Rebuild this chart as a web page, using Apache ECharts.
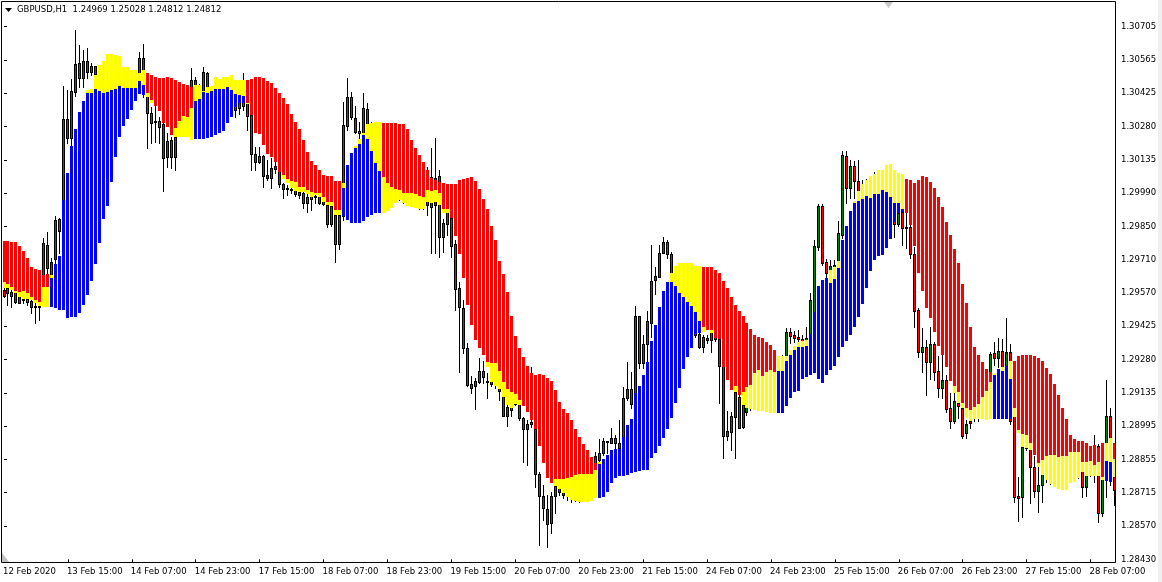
<!DOCTYPE html>
<html><head><meta charset="utf-8">
<script src="https://cdn.jsdelivr.net/npm/echarts@6/dist/echarts.min.js"></script>
<style>html,body{margin:0;padding:0;background:#fff}#c{width:1162px;height:582px}</style>
</head><body><div id="c"></div>
<script>
const _ = null;
const chartTitle = 'GBPUSD,H1  1.24969 1.25028 1.24812 1.24812';
const xTickLabels = ['12 Feb 2020','13 Feb 15:00','14 Feb 07:00','14 Feb 23:00','17 Feb 15:00','18 Feb 07:00','18 Feb 23:00','19 Feb 15:00','20 Feb 07:00','20 Feb 23:00','21 Feb 15:00','24 Feb 07:00','24 Feb 23:00','25 Feb 15:00','26 Feb 07:00','26 Feb 23:00','27 Feb 15:00','28 Feb 07:00'];
const yTickLabels = ['1.28430','1.28570','1.28715','1.28855','1.28995','1.29135','1.29280','1.29425','1.29570','1.29710','1.29850','1.29990','1.30135','1.30280','1.30425','1.30565','1.30705'];

const open = [
1.29580,1.29589,1.29554,1.29571,1.29524,1.29537,1.29541,1.29533,1.29512,1.29507,
1.29546,1.29772,1.29601,1.29713,1.29883,1.29875,1.30311,1.30230,1.30426,1.30550,
1.30486,1.30559,1.30512,1.30537,1.30486,1.30520,1.30477,1.30546,1.30503,1.30537,
1.30494,1.30452,1.30494,1.30469,1.30486,1.30571,1.30426,1.30336,1.30302,1.30302,
1.30289,1.30148,1.30221,1.30148,1.30281,1.30264,1.30306,1.30392,1.30477,1.30417,
1.30413,1.30507,1.30426,1.30392,1.30435,1.30392,1.30409,1.30435,1.30349,1.30358,
1.30400,1.30392,1.30328,1.30161,1.30127,1.30153,1.30071,1.30059,1.30097,1.30110,
1.30033,1.30012,1.30012,1.29990,1.29999,1.29995,1.29952,1.29969,1.29982,1.29982,
1.29965,1.29944,1.29862,1.29901,1.29777,1.29896,1.30281,1.30405,1.30315,1.30259,
1.30247,1.30353,1.30272,1.30178,1.30221,1.30136,1.30007,1.30050,1.29973,1.30007,
1.29965,1.29999,1.29948,1.29982,1.29939,1.29973,1.30029,1.29935,1.29944,1.30067,
1.29807,1.29862,1.29888,1.29777,1.29589,1.29503,1.29332,1.29179,1.29170,1.29187,
1.29234,1.29191,1.29179,1.29196,1.29170,1.29132,1.29042,1.29068,1.29110,1.29093,
1.29033,1.28986,1.29008,1.28986,1.28794,1.28700,1.28645,1.28585,1.28700,1.28743,
1.28704,1.28734,1.28692,1.28726,1.28692,1.28726,1.28768,1.28743,1.28811,1.28854,
1.28884,1.28931,1.28926,1.28948,1.28926,1.28952,1.29119,1.29157,1.29140,1.29469,
1.29268,1.29349,1.29439,1.29623,1.29636,1.29738,1.29785,1.29734,1.29657,1.29606,
1.29640,1.29580,1.29537,1.29452,1.29392,1.29337,1.29367,1.29367,1.29392,1.29371,
1.29255,1.28956,1.28973,1.29038,1.29123,1.28995,1.29059,1.29110,1.29089,1.29153,
1.29110,1.29187,1.29238,1.29213,1.29230,1.29260,1.29290,1.29401,1.29388,1.29379,
1.29371,1.29367,1.29375,1.29478,1.29764,1.29939,1.29700,1.29645,1.29678,1.29700,
1.29815,1.30153,1.30016,1.30110,1.30046,1.29986,1.30024,1.29999,1.30024,1.30059,
1.30033,1.30067,1.30033,1.29944,1.29862,1.29913,1.29849,1.29849,1.29734,1.29495,
1.29315,1.29337,1.29273,1.29349,1.29234,1.29162,1.29196,1.29076,1.29021,1.29097,
1.29076,1.28969,1.29021,1.29059,1.29033,1.29068,1.29127,1.29217,1.29311,1.29290,
1.29320,1.29255,1.29315,1.29046,1.28700,1.28696,1.28918,1.28905,1.28824,1.28721,
1.28747,1.28777,1.28811,1.28768,1.28828,1.28785,1.28820,1.28785,1.28828,1.28811,
1.28820,1.28738,1.28794,1.28828,1.28914,1.28627,1.28811,1.29042,1.28803];

const high = [
1.29589,1.29593,1.29580,1.29571,1.29567,1.29550,1.29567,1.29541,1.29524,1.29524,
1.29802,1.29828,1.29717,1.29896,1.29887,1.30452,1.30435,1.30482,1.30691,1.30627,
1.30605,1.30614,1.30550,1.30537,1.30529,1.30546,1.30563,1.30571,1.30563,1.30554,
1.30520,1.30512,1.30512,1.30520,1.30597,1.30631,1.30443,1.30362,1.30366,1.30319,
1.30315,1.30251,1.30234,1.30255,1.30298,1.30319,1.30375,1.30529,1.30490,1.30460,
1.30533,1.30512,1.30452,1.30477,1.30460,1.30452,1.30469,1.30456,1.30405,1.30409,
1.30507,1.30409,1.30341,1.30191,1.30191,1.30157,1.30136,1.30144,1.30136,1.30110,
1.30037,1.30029,1.30029,1.30020,1.30007,1.30007,1.29995,1.29999,1.30007,1.29986,
1.29973,1.29952,1.29952,1.29909,1.29935,1.30383,1.30486,1.30426,1.30366,1.30298,
1.30422,1.30379,1.30298,1.30264,1.30242,1.30178,1.30093,1.30067,1.30029,1.30029,
1.30016,1.30016,1.30007,1.30007,1.29999,1.29990,1.30106,1.30187,1.30230,1.30093,
1.29883,1.29931,1.29909,1.29794,1.29614,1.29537,1.29354,1.29213,1.29204,1.29290,
1.29277,1.29226,1.29217,1.29213,1.29183,1.29153,1.29093,1.29093,1.29119,1.29102,
1.29038,1.29025,1.29251,1.28991,1.28802,1.28747,1.28704,1.28717,1.28760,1.28760,
1.28751,1.28751,1.28743,1.28743,1.28751,1.28781,1.28785,1.28819,1.28888,1.28943,
1.28948,1.28935,1.28991,1.28960,1.29025,1.29166,1.29273,1.29230,1.29512,1.29469,
1.29388,1.29490,1.29772,1.29678,1.29772,1.29807,1.29794,1.29743,1.29674,1.29666,
1.29657,1.29601,1.29554,1.29478,1.29409,1.29388,1.29388,1.29409,1.29409,1.29375,
1.29255,1.29063,1.29059,1.29144,1.29153,1.29110,1.29127,1.29132,1.29174,1.29170,
1.29213,1.29260,1.29255,1.29273,1.29290,1.29302,1.29418,1.29418,1.29405,1.29409,
1.29388,1.29422,1.29567,1.29794,1.29948,1.29948,1.29713,1.29708,1.29708,1.29875,
1.30174,1.30174,1.30136,1.30131,1.30136,1.30050,1.30054,1.30059,1.30084,1.30084,
1.30084,1.30093,1.30050,1.29965,1.29922,1.29922,1.29909,1.29858,1.29764,1.29503,
1.29418,1.29367,1.29422,1.29358,1.29298,1.29302,1.29217,1.29140,1.29140,1.29119,
1.29076,1.29025,1.29038,1.29076,1.29110,1.29273,1.29217,1.29315,1.29358,1.29375,
1.29371,1.29460,1.29349,1.29068,1.28781,1.28918,1.28939,1.28918,1.28871,1.28824,
1.28824,1.28828,1.28828,1.28845,1.28854,1.28837,1.28837,1.28952,1.28854,1.28828,
1.28837,1.28811,1.28845,1.28961,1.28922,1.28785,1.29196,1.29076,1.28811];

const low = [
1.29550,1.29516,1.29507,1.29524,1.29524,1.29524,1.29516,1.29482,1.29439,1.29452,
1.29524,1.29623,1.29580,1.29696,1.29738,1.29862,1.30208,1.30127,1.30409,1.30447,
1.30447,1.30486,1.30499,1.30490,1.30460,1.30452,1.30460,1.30477,1.30469,1.30460,
1.30426,1.30435,1.30435,1.30452,1.30469,1.30405,1.30187,1.30208,1.30212,1.30208,
1.30003,1.30106,1.30101,1.30093,1.30238,1.30247,1.30289,1.30375,1.30413,1.30405,
1.30392,1.30400,1.30375,1.30375,1.30383,1.30375,1.30392,1.30375,1.30319,1.30332,
1.30349,1.30264,1.30093,1.30093,1.30123,1.30020,1.30050,1.30016,1.30080,1.30020,
1.29973,1.29986,1.29995,1.29982,1.29973,1.29931,1.29914,1.29922,1.29952,1.29948,
1.29944,1.29849,1.29853,1.29700,1.29755,1.29879,1.30264,1.30311,1.30251,1.30200,
1.30238,1.30221,1.30200,1.30136,1.30093,1.30007,1.29973,1.29965,1.29956,1.29965,
1.29952,1.29948,1.29939,1.29935,1.29926,1.29926,1.29901,1.29738,1.29738,1.29721,
1.29743,1.29815,1.29721,1.29495,1.29230,1.29311,1.29170,1.29140,1.29072,1.29183,
1.29183,1.29119,1.29170,1.29162,1.29110,1.29042,1.28999,1.29042,1.29089,1.29025,
1.28845,1.28832,1.28995,1.28738,1.28491,1.28598,1.28482,1.28542,1.28627,1.28704,
1.28692,1.28683,1.28675,1.28679,1.28675,1.28709,1.28726,1.28726,1.28794,1.28845,
1.28875,1.28884,1.28926,1.28897,1.28901,1.28948,1.29110,1.29076,1.29132,1.29247,
1.29247,1.29273,1.29379,1.29563,1.29636,1.29738,1.29717,1.29645,1.29606,1.29589,
1.29554,1.29516,1.29452,1.29379,1.29332,1.29315,1.29354,1.29315,1.29362,1.29097,
1.28862,1.28939,1.28897,1.28862,1.28991,1.28991,1.29046,1.29068,1.29076,1.29089,
1.29097,1.29174,1.29196,1.29196,1.29217,1.29238,1.29281,1.29354,1.29358,1.29354,
1.29358,1.29362,1.29367,1.29469,1.29751,1.29687,1.29636,1.29632,1.29666,1.29687,
1.29802,1.29952,1.29973,1.29973,1.29973,1.29973,1.29986,1.29982,1.30007,1.30007,
1.30016,1.30007,1.29944,1.29807,1.29853,1.29772,1.29760,1.29717,1.29422,1.29294,
1.29230,1.29132,1.29200,1.29196,1.29123,1.29119,1.29059,1.28991,1.29012,1.29033,
1.28948,1.28948,1.28991,1.29021,1.29021,1.29046,1.29110,1.29196,1.29260,1.29251,
1.29243,1.29247,1.29008,1.28675,1.28593,1.28610,1.28897,1.28670,1.28696,1.28632,
1.28675,1.28760,1.28751,1.28743,1.28768,1.28768,1.28768,1.28777,1.28785,1.28777,
1.28696,1.28700,1.28785,1.28760,1.28589,1.28615,1.28696,1.28747,1.28662];

const close = [
1.29554,1.29567,1.29571,1.29529,1.29554,1.29541,1.29529,1.29507,1.29507,1.29512,
1.29781,1.29674,1.29700,1.29879,1.29832,1.30311,1.30230,1.30430,1.30546,1.30486,
1.30559,1.30512,1.30537,1.30503,1.30512,1.30477,1.30537,1.30503,1.30537,1.30486,
1.30452,1.30486,1.30460,1.30503,1.30571,1.30443,1.30336,1.30294,1.30298,1.30277,
1.30144,1.30217,1.30148,1.30234,1.30255,1.30306,1.30349,1.30477,1.30426,1.30452,
1.30512,1.30413,1.30392,1.30443,1.30400,1.30426,1.30443,1.30400,1.30392,1.30392,
1.30366,1.30324,1.30161,1.30127,1.30153,1.30067,1.30059,1.30101,1.30110,1.30033,
1.30012,1.30016,1.30007,1.30007,1.29986,1.29952,1.29978,1.29986,1.29978,1.29952,
1.29948,1.29862,1.29939,1.29777,1.29901,1.30285,1.30405,1.30319,1.30255,1.30251,
1.30358,1.30264,1.30221,1.30242,1.30136,1.30050,1.30071,1.29986,1.30016,1.29982,
1.29999,1.29965,1.29982,1.29948,1.29973,1.29948,1.29944,1.30063,1.30059,1.29807,
1.29866,1.29913,1.29768,1.29584,1.29507,1.29332,1.29174,1.29162,1.29191,1.29234,
1.29209,1.29187,1.29204,1.29174,1.29149,1.29042,1.29080,1.29080,1.29093,1.29033,
1.28986,1.29008,1.29016,1.28794,1.28700,1.28649,1.28581,1.28700,1.28743,1.28717,
1.28734,1.28704,1.28726,1.28700,1.28734,1.28768,1.28743,1.28802,1.28871,1.28884,
1.28935,1.28935,1.28948,1.28926,1.28905,1.29119,1.29157,1.29093,1.29469,1.29268,
1.29349,1.29448,1.29619,1.29640,1.29738,1.29785,1.29734,1.29653,1.29623,1.29640,
1.29580,1.29537,1.29473,1.29388,1.29337,1.29379,1.29375,1.29401,1.29371,1.29255,
1.28956,1.28978,1.29042,1.29144,1.28991,1.29089,1.29110,1.29089,1.29153,1.29110,
1.29196,1.29238,1.29213,1.29247,1.29273,1.29290,1.29401,1.29384,1.29375,1.29371,
1.29362,1.29375,1.29537,1.29768,1.29939,1.29696,1.29653,1.29683,1.29687,1.29824,
1.30157,1.30016,1.30110,1.30046,1.30003,1.30016,1.29999,1.30033,1.30059,1.30024,
1.30067,1.30033,1.29965,1.29862,1.29909,1.29845,1.29845,1.29734,1.29490,1.29315,
1.29337,1.29273,1.29349,1.29230,1.29162,1.29196,1.29072,1.29021,1.29106,1.29085,
1.28956,1.29008,1.29012,1.29033,1.29068,1.29132,1.29196,1.29307,1.29290,1.29320,
1.29251,1.29315,1.29021,1.28696,1.28692,1.28909,1.28905,1.28824,1.28721,1.28747,
1.28803,1.28811,1.28777,1.28828,1.28794,1.28820,1.28794,1.28828,1.28803,1.28785,
1.28738,1.28794,1.28828,1.28794,1.28627,1.28785,1.29042,1.28811,1.28726];

// indicator columns: red from redTop down to yellowTop, yellow from yellowTop to yellowBottom,
// blue from yellowBottom (or yellowTop) down to blueBottom
const redTop = [
1.29790,1.29790,1.29785,1.29785,1.29768,1.29747,1.29717,1.29678,1.29670,1.29666,
1.29645,1.29649,_,_,_,_,_,_,_,_,
_,_,_,_,_,_,_,_,_,_,
_,_,_,_,_,_,1.30507,1.30499,1.30490,1.30486,
1.30486,1.30490,1.30486,1.30477,1.30469,1.30460,1.30456,1.30447,_,_,
_,_,_,_,_,_,_,_,_,_,
_,1.30477,1.30482,1.30490,1.30490,1.30486,1.30473,1.30464,1.30443,1.30422,
1.30400,1.30375,1.30332,1.30298,1.30268,1.30221,1.30170,1.30131,1.30114,1.30093,
1.30071,1.30067,1.30067,1.30046,1.30046,_,_,_,_,_,
_,_,_,_,_,1.30294,1.30294,1.30294,1.30294,1.30289,
1.30289,1.30268,1.30221,1.30187,1.30157,1.30127,1.30093,1.30059,1.30050,1.30042,
1.30037,1.30033,1.30033,1.30033,1.30050,1.30054,1.30059,1.30063,1.30046,1.30012,
1.29969,1.29926,1.29853,1.29794,1.29704,1.29649,1.29572,1.29469,1.29384,1.29332,
1.29294,1.29255,1.29226,1.29217,1.29221,1.29217,1.29204,1.29191,1.29153,1.29102,
1.29072,1.29055,1.29025,1.28986,1.28952,1.28922,1.28897,1.28867,1.28841,_,
_,_,_,_,_,_,_,_,_,_,
_,_,_,_,_,_,_,_,_,_,
_,_,_,_,_,1.29678,1.29678,1.29678,1.29666,1.29653,
1.29619,1.29589,1.29550,1.29516,1.29490,1.29469,1.29439,1.29414,1.29388,1.29379,
1.29375,1.29358,1.29345,1.29324,_,_,_,_,_,_,
_,_,_,_,_,_,_,_,_,_,
_,_,_,_,_,_,_,_,_,_,
_,_,_,_,_,_,1.30054,1.30050,1.30037,1.30050,
1.30067,1.30063,1.30042,1.30016,1.29978,1.29935,1.29871,1.29815,1.29755,1.29696,
1.29606,1.29525,1.29422,1.29337,1.29302,1.29273,1.29243,1.29230,_,_,
_,_,_,1.29277,1.29298,1.29302,1.29302,1.29302,1.29298,1.29290,
1.29277,1.29247,1.29221,1.29179,1.29132,1.29076,1.29029,1.28961,1.28943,1.28935,
1.28935,1.28926,1.28914,1.28918,1.28905,1.28926,_,_,1.28926];

const yellowTop = [
1.29614,1.29606,1.29593,1.29576,1.29571,1.29576,1.29567,1.29550,1.29537,1.29529,
1.29593,1.29593,1.29645,1.29691,1.29725,1.29965,1.30080,1.30195,1.30268,1.30341,
1.30388,1.30435,1.30439,1.30499,1.30541,1.30559,1.30588,1.30588,1.30584,1.30580,
1.30533,1.30533,1.30520,1.30520,1.30507,1.30520,1.30422,1.30392,1.30366,1.30345,
1.30294,1.30276,1.30242,1.30272,1.30302,1.30324,1.30319,1.30358,1.30456,1.30456,
1.30430,1.30447,1.30452,1.30490,1.30482,1.30490,1.30490,1.30499,1.30477,1.30477,
1.30477,1.30379,1.30328,1.30251,1.30247,1.30200,1.30161,1.30148,1.30127,1.30084,
1.30071,1.30054,1.30046,1.30042,1.30020,1.30020,1.30007,1.29999,1.29995,1.29995,
1.29978,1.29956,1.29956,1.29922,1.29922,1.30037,1.30114,1.30165,1.30195,1.30225,
1.30251,1.30289,1.30294,1.30298,1.30298,1.30063,1.30037,1.30020,1.30012,1.30007,
1.29995,1.29995,1.29995,1.29990,1.29982,1.29978,1.30007,1.30003,1.30007,1.29995,
1.29926,1.29926,1.29888,1.29811,1.29734,1.29632,1.29516,1.29431,1.29367,1.29332,
1.29302,1.29273,1.29268,1.29268,1.29234,1.29187,1.29157,1.29144,1.29136,1.29110,
1.29085,1.29059,1.29025,1.28986,1.28914,1.28841,1.28777,1.28755,1.28772,1.28772,
1.28772,1.28777,1.28781,1.28790,1.28794,1.28794,1.28794,1.28794,1.28811,1.28845,
1.28858,1.28875,1.28897,1.28901,1.28901,1.28952,1.29003,1.29029,1.29140,1.29170,
1.29217,1.29273,1.29362,1.29431,1.29507,1.29576,1.29614,1.29653,1.29683,1.29696,
1.29696,1.29696,1.29696,1.29683,1.29683,1.29422,1.29409,1.29409,1.29375,1.29371,
1.29251,1.29196,1.29153,1.29170,1.29132,1.29144,1.29166,1.29174,1.29226,1.29238,
1.29213,1.29230,1.29238,1.29230,1.29298,1.29298,1.29298,1.29324,1.29341,1.29358,
1.29362,1.29367,1.29392,1.29486,1.29597,1.29623,1.29632,1.29666,1.29678,1.29704,
1.29794,1.29853,1.29918,1.29960,1.30003,1.30033,1.30050,1.30067,1.30076,1.30093,
1.30093,1.30114,1.30118,1.30093,1.30080,1.30076,1.29909,1.29858,1.29768,1.29653,
1.29576,1.29503,1.29461,1.29401,1.29341,1.29302,1.29251,1.29191,1.29170,1.29144,
1.29097,1.29076,1.29068,1.29080,1.29093,1.29123,1.29149,1.29187,1.29226,1.29243,
1.29251,1.29255,1.29277,1.29076,1.28982,1.28965,1.28961,1.28926,1.28875,1.28841,
1.28854,1.28871,1.28875,1.28875,1.28867,1.28871,1.28871,1.28888,1.28888,1.28888,
1.28845,1.28845,1.28850,1.28833,1.28845,1.28781,1.28926,1.28948,1.28858];

const yellowBottom = [
1.29589,1.29589,1.29580,1.29567,1.29550,1.29541,1.29541,1.29537,1.29524,1.29512,
1.29507,1.29507,1.29632,_,_,_,_,_,_,_,
_,1.30422,1.30422,1.30439,1.30430,1.30422,1.30426,1.30435,1.30439,1.30452,
1.30443,1.30443,1.30443,1.30443,1.30473,1.30456,1.30405,1.30379,_,_,
_,_,_,1.30234,1.30234,1.30234,1.30234,1.30221,1.30388,1.30396,
1.30426,1.30422,1.30430,1.30439,1.30439,1.30439,1.30447,1.30435,1.30417,1.30413,
1.30409,1.30375,_,_,_,_,_,_,_,_,
1.30054,1.30037,1.30016,1.30003,1.29999,1.29999,1.29990,1.29978,1.29986,1.29978,
1.29956,1.29944,1.29939,1.29901,1.29901,1.30016,_,_,1.30187,1.30204,
1.30242,1.30225,1.30174,1.30123,1.30089,1.29909,1.29918,1.29931,1.29952,1.29965,
1.29952,1.29939,1.29935,1.29931,1.29926,1.29926,1.29956,1.29952,1.29956,1.29944,
1.29909,1.29909,_,_,_,_,_,_,_,_,
_,1.29251,1.29187,1.29170,1.29157,1.29123,1.29089,1.29076,1.29093,1.29089,
_,_,_,_,_,_,_,_,1.28743,1.28730,
1.28713,1.28696,1.28683,1.28679,1.28675,1.28675,1.28675,1.28679,1.28692,1.28837,
_,_,_,_,_,_,_,_,_,_,
_,_,_,_,_,_,_,1.29614,1.29597,1.29567,
1.29550,1.29529,1.29512,1.29486,1.29448,1.29401,_,1.29396,_,_,
_,_,_,1.29144,_,1.29089,1.29076,1.29072,1.29068,1.29063,
1.29063,1.29059,1.29055,1.29055,1.29234,1.29234,1.29277,1.29302,1.29324,1.29337,
1.29337,1.29341,_,_,_,_,_,1.29610,1.29627,1.29674,
_,_,_,1.29952,1.29960,1.29969,1.29982,1.29973,1.29990,1.29990,
1.30007,1.29999,1.29978,1.29952,1.29952,1.29926,_,_,_,_,
_,_,_,_,_,_,_,_,1.29140,1.29097,
1.29076,1.29033,1.29021,1.29029,1.29029,1.29029,1.29025,1.29029,1.29217,_,
1.29234,_,1.29200,1.29038,1.28969,1.28909,1.28905,1.28897,_,1.28824,
1.28790,1.28768,1.28751,1.28738,1.28730,1.28726,1.28726,1.28755,1.28760,1.28777,
1.28803,1.28785,1.28785,1.28785,1.28785,1.28768,1.28850,1.28845,1.28781];

const blueBottom = [
_,_,_,_,_,_,_,_,_,_,
_,_,1.29507,1.29503,1.29495,1.29495,1.29461,1.29465,1.29465,1.29482,
1.29516,1.29559,1.29619,1.29691,1.29781,1.29883,1.29939,1.30042,1.30148,1.30234,
1.30281,1.30311,1.30349,1.30388,1.30417,1.30413,_,_,_,_,
_,_,_,_,_,_,_,_,1.30225,1.30225,
1.30225,1.30230,1.30234,1.30242,1.30251,1.30259,1.30294,1.30319,1.30362,1.30379,
1.30379,_,_,_,_,_,_,_,_,_,
_,_,_,_,_,_,_,_,_,_,
_,_,_,_,_,1.29896,1.29879,1.29866,1.29866,1.29866,
1.29875,1.29892,1.29901,1.29909,1.29909,_,_,_,_,_,
_,_,_,_,_,_,_,_,_,_,
_,_,_,_,_,_,_,_,_,_,
_,_,_,_,_,_,_,_,_,_,
_,_,_,_,_,_,_,_,_,_,
_,_,_,_,_,_,_,_,_,1.28692,
1.28696,1.28717,1.28755,1.28777,1.28785,1.28785,1.28790,1.28798,1.28802,1.28807,
1.28811,1.28811,1.28862,1.28884,1.28914,1.28948,1.28986,1.29033,1.29097,1.29162,
1.29243,1.29294,1.29332,1.29392,1.29396,_,_,_,_,_,
_,_,_,_,_,_,_,_,_,_,
_,_,_,_,1.29055,1.29055,1.29085,1.29119,1.29144,1.29149,
1.29200,1.29209,1.29217,1.29226,1.29200,1.29183,1.29217,1.29238,1.29255,1.29294,
1.29337,1.29362,1.29388,1.29422,1.29465,1.29520,1.29589,1.29661,1.29708,1.29725,
1.29730,1.29760,1.29798,1.29871,1.29909,1.29913,_,_,_,_,
_,_,_,_,_,_,_,_,_,_,
_,_,_,_,_,_,_,_,1.29029,1.29029,
1.29029,1.29029,1.29029,_,_,_,_,_,_,_,
_,_,_,_,_,_,_,_,_,_,
_,_,_,_,_,_,1.28764,1.28760,_];

const BASE = 1.28430, TOP = 1.30705, STEPS = 16;
const STEP = (TOP - BASE) / STEPS;
const ax = p => (p - BASE) / STEP;
const idx = open.map((_v, i) => i);

const FONT = 'DejaVu Sans';
const C_RED = '#ff0000', C_YEL = '#ffff00', C_BLUE = '#0000ff', C_GREEN = '#008000';

function renderCandle(params, api) {
  const k = params.dataIndex;
  const o = open[k], c = close[k], h = high[k], l = low[k];
  const cx = api.coord([k, 0])[0];
  const yH = Math.round(api.coord([k, ax(h)])[1]);
  const yL = Math.round(api.coord([k, ax(l)])[1]);
  let yT = Math.round(api.coord([k, ax(Math.max(o, c))])[1]);
  let yB = Math.round(api.coord([k, ax(Math.min(o, c))])[1]);
  if (yB - yT < 1) yB = yT + 1;
  const x0 = Math.round(cx - 1.5);
  const children = [
    {type: 'rect', shape: {x: x0 + 1, y: yH, width: 1, height: Math.max(1, yL - yH + 1)}, style: {fill: '#000'}},
    {type: 'rect', shape: {x: x0, y: yT, width: 3, height: yB - yT + 1}, style: {fill: '#000'}}
  ];
  if (yB - yT >= 2) {
    children.push({type: 'rect', shape: {x: x0 + 1, y: yT + 1, width: 1, height: yB - yT - 1},
      style: {fill: c >= o ? C_GREEN : C_RED}});
  }
  return {type: 'group', children};
}

function renderCloud(params, api) {
  const k = params.dataIndex;
  const cx = api.coord([k, 0])[0];
  const x0 = Math.round(cx - 1.5);
  const Y = p => Math.round(api.coord([k, ax(p)])[1]);
  const children = [];
  const yt = Y(yellowTop[k]);
  const yb = yellowBottom[k] != null ? Y(yellowBottom[k]) : yt;
  if (redTop[k] != null) {
    const r = Y(redTop[k]);
    children.push({type: 'rect', shape: {x: x0, y: r, width: 3, height: Math.max(1, yt - r)}, style: {fill: C_RED}});
  }
  if (yellowBottom[k] != null && yb > yt) {
    children.push({type: 'rect', shape: {x: x0, y: yt, width: 3, height: yb - yt}, style: {fill: C_YEL}});
  }
  if (blueBottom[k] != null) {
    const b = Y(blueBottom[k]);
    children.push({type: 'rect', shape: {x: x0, y: yb, width: 3, height: Math.max(1, b - yb)}, style: {fill: C_BLUE}});
  }
  return {type: 'group', children};
}

const chart = echarts.init(document.getElementById('c'), null, {renderer: 'canvas'});
chart.setOption({
  animation: false,
  backgroundColor: '#ffffff',
  grid: {left: 2.5, right: 47, top: 26.7, bottom: 22.7, containLabel: false},
  xAxis: {
    type: 'value', min: 0, max: 278.125, interval: 16, offset: 3.3,
    axisLine: {show: false},
    axisTick: {show: true, length: 3, lineStyle: {color: '#000', width: 1}},
    splitLine: {show: false},
    axisLabel: {
      color: '#000', fontFamily: FONT, fontSize: 8.5, margin: 5, align: 'left', padding: [0, 0, 0, -1],
      showMaxLabel: false,
      formatter: v => (Math.abs(v / 16 - Math.round(v / 16)) < 1e-6 ? (xTickLabels[Math.round(v / 16)] || '') : '')
    }
  },
  yAxis: {
    type: 'value', position: 'right', min: 0, max: STEPS, interval: 1,
    axisLine: {show: false},
    axisTick: {show: true, length: 3, lineStyle: {color: '#000', width: 1}},
    splitLine: {show: false},
    axisLabel: {
      color: '#000', fontFamily: FONT, fontSize: 8.5, margin: 6,
      formatter: v => yTickLabels[Math.round(v)] || ''
    }
  },
  series: [
    {type: 'custom', name: 'candles', renderItem: renderCandle, clip: false, z: 2,
     data: idx.map(k => [k, ax(low[k]), ax(high[k])]), encode: {x: 0, y: [1, 2]}},
    {type: 'custom', name: 'cloud', renderItem: renderCloud, clip: false, z: 3,
     data: idx.map(k => [k, ax(yellowTop[k])]), encode: {x: 0, y: 1}}
  ],
  graphic: [
    {type: 'rect', z: 100, shape: {x: 1158, y: 0, width: 4, height: 582}, style: {fill: '#f0f0f0'}},
    {type: 'rect', z: 100, shape: {x: 1.5, y: 1.5, width: 1114, height: 561}, style: {fill: null, stroke: '#000', lineWidth: 1}},
    {type: 'polygon', z: 100, shape: {points: [[5, 8], [12, 8], [8.5, 12]]}, style: {fill: '#000'}},
    {type: 'text', z: 100, x: 17, y: 10, style: {text: chartTitle, fill: '#000', font: '8.5px "DejaVu Sans"', textVerticalAlign: 'middle', verticalAlign: 'middle'}},
    {type: 'polygon', z: 100, shape: {points: [[884, 2], [893, 2], [888.5, 8]]}, style: {fill: '#c8c8c8'}},
    {type: 'polygon', z: 100, shape: {points: [[2, 553], [2, 562], [9, 562]]}, style: {fill: '#c0c0c0'}}
  ]
});
</script>
</body></html>
